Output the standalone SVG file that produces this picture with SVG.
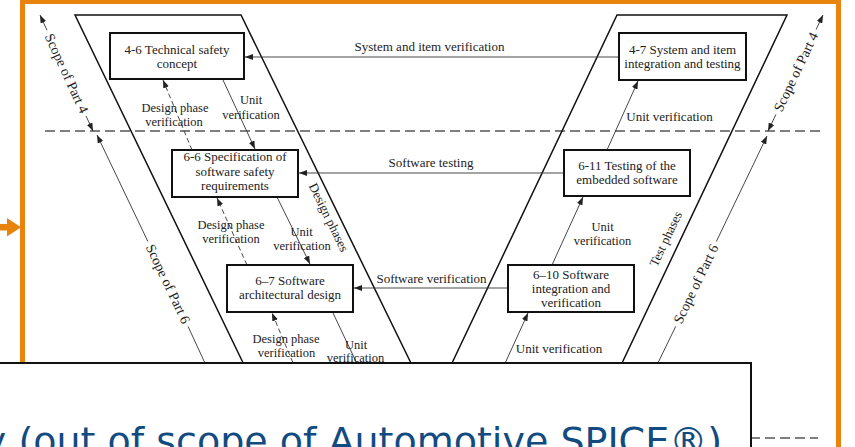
<svg xmlns="http://www.w3.org/2000/svg" width="855" height="447" viewBox="0 0 855 447">
<defs>
<style>
.t{font-family:"Liberation Serif","Times New Roman",serif;font-size:13px;fill:#222;text-anchor:middle}
.s{font-size:14px}
.l{font-size:12.5px}
.box{fill:#fff;stroke:#111;stroke-width:2}
.edge{fill:none;stroke:#111;stroke-width:1.5}
.c{fill:none;stroke:#333;stroke-width:0.9}
.d{stroke-dasharray:5 3}
.sep{fill:none;stroke:#000;stroke-width:1;stroke-dasharray:10 5}
</style>
<marker id="ah" viewBox="0 0 8 6" refX="8" refY="3" markerWidth="8" markerHeight="6" markerUnits="userSpaceOnUse" orient="auto-start-reverse">
<path d="M0,0 L8,3 L0,6 Z" fill="#222"/>
</marker>
</defs>
<rect x="0" y="0" width="855" height="447" fill="#fff"/>

<!-- orange frame -->
<g id="frame">
<rect x="22.5" y="1.5" width="816" height="480" fill="none" stroke="#E8830E" stroke-width="5"/>
<rect x="0" y="224" width="9" height="6.5" fill="#E8830E"/>
<path d="M7,218 L21,227.3 L7,236.6 Z" fill="#E8830E"/>
</g>

<!-- phase separators and V outline -->
<g id="separators">
<line class="sep" x1="45" y1="131" x2="820" y2="131"/>
<line class="sep" x1="45" y1="438" x2="818" y2="438"/>
</g>
<g id="design-phases">
<path class="edge" d="M261,400 L75,15 L241,15 L429,400"/>
<text class="t" transform="translate(328.5,217.5) rotate(63.9)" x="0" y="4">Design phases</text>
</g>
<g id="test-phases">
<path class="edge" d="M434.5,400 L617,15 L787,15 L604.5,400"/>
<text class="t" transform="translate(666,239) rotate(-64.6)" x="0" y="4">Test phases</text>
</g>

<!-- scope indicators -->
<g id="scope-left">
<line class="c" x1="47" y1="30.3" x2="40" y2="15" marker-end="url(#ah)"/>
<line class="c" x1="86" y1="116" x2="93" y2="131" marker-end="url(#ah)"/>
<text class="t s" transform="translate(66.5,73.5) rotate(65.4)" x="0" y="4.5">Scope of Part 4</text>
<line class="c" x1="147.9" y1="241.5" x2="97" y2="135" marker-end="url(#ah)"/>
<line class="c" x1="188.1" y1="326.5" x2="222" y2="400"/>
<text class="t s" transform="translate(168,284) rotate(64.7)" x="0" y="4.5">Scope of Part 6</text>
</g>
<g id="scope-right">
<line class="c" x1="816.1" y1="29.5" x2="823" y2="15" marker-end="url(#ah)"/>
<line class="c" x1="775.9" y1="114.5" x2="768" y2="131" marker-end="url(#ah)"/>
<text class="t s" transform="translate(796,72) rotate(-64.6)" x="0" y="4.5">Scope of Part 4</text>
<line class="c" x1="716.3" y1="241.6" x2="767" y2="136" marker-end="url(#ah)"/>
<line class="c" x1="675.7" y1="326.4" x2="640" y2="400"/>
<text class="t s" transform="translate(696,284) rotate(-64.3)" x="0" y="4.5">Scope of Part 6</text>
</g>

<!-- connectors -->
<g id="connectors">
<line class="c" x1="619" y1="57" x2="245" y2="57" marker-end="url(#ah)"/>
<line class="c" x1="564" y1="173" x2="299" y2="173" marker-end="url(#ah)"/>
<line class="c" x1="508" y1="288" x2="354" y2="288" marker-end="url(#ah)"/>

<line class="c" x1="223" y1="80" x2="255" y2="149" marker-end="url(#ah)"/>
<line class="c d" x1="192" y1="150" x2="163" y2="80" marker-end="url(#ah)"/>
<line class="c" x1="277" y1="197" x2="310" y2="264" marker-end="url(#ah)"/>
<line class="c d" x1="247" y1="265" x2="217" y2="198" marker-end="url(#ah)"/>
<line class="c" x1="333" y1="313" x2="360" y2="370"/>
<line class="c d" x1="296" y1="370" x2="272" y2="313" marker-end="url(#ah)"/>

<line class="c" x1="607" y1="150" x2="638" y2="81" marker-end="url(#ah)"/>
<line class="c" x1="552" y1="265" x2="583" y2="197" marker-end="url(#ah)"/>
<line class="c" x1="502" y1="370" x2="528" y2="313" marker-end="url(#ah)"/>

<text class="t" x="429.5" y="51">System and item verification</text>
<text class="t" x="431" y="167">Software testing</text>
<text class="t" x="431.5" y="283">Software verification</text>

<text class="t l" x="251" y="104">Unit</text>
<text class="t l" x="251" y="118.5">verification</text>
<text class="t l" x="175" y="111.5">Design phase</text>
<text class="t l" x="174" y="126">verification</text>

<text class="t l" x="301.5" y="235.5">Unit</text>
<text class="t l" x="302" y="250">verification</text>
<text class="t l" x="231" y="228.5">Design phase</text>
<text class="t l" x="231" y="242.5">verification</text>

<text class="t l" x="356" y="348.5">Unit</text>
<text class="t l" x="355.5" y="362">verification</text>
<text class="t l" x="286" y="342.5">Design phase</text>
<text class="t l" x="286.5" y="357">verification</text>

<text class="t" x="669.5" y="121">Unit verification</text>
<text class="t l" x="602.5" y="230.5">Unit</text>
<text class="t l" x="602.5" y="245">verification</text>
<text class="t" x="559" y="353">Unit verification</text>
</g>

<!-- nodes -->
<g id="n46">
<rect class="box" x="110" y="33" width="134" height="46"/>
<text class="t" x="177" y="53.5">4-6 Technical safety</text>
<text class="t" x="177" y="67.5">concept</text>
</g>
<g id="n66">
<rect class="box" x="172" y="150" width="126" height="47"/>
<text class="t" x="235" y="161">6-6 Specification of</text>
<text class="t" x="235" y="175.5">software safety</text>
<text class="t" x="235" y="189.5">requirements</text>
</g>
<g id="n67">
<rect class="box" x="227" y="265" width="126" height="47"/>
<text class="t" x="290" y="285">6–7 Software</text>
<text class="t" x="290" y="298.5">architectural design</text>
</g>
<g id="n47">
<rect class="box" x="619" y="33" width="127" height="47"/>
<text class="t" x="682.5" y="53.5">4-7 System and item</text>
<text class="t" x="682.5" y="67.5">integration and testing</text>
</g>
<g id="n611">
<rect class="box" x="564" y="150" width="126" height="46"/>
<text class="t" x="627" y="170">6-11 Testing of the</text>
<text class="t" x="627" y="184">embedded software</text>
</g>
<g id="n610">
<rect class="box" x="508" y="265" width="126" height="47"/>
<text class="t" x="571" y="278.5">6–10 Software</text>
<text class="t" x="571" y="292.5">integration and</text>
<text class="t" x="571" y="306.5">verification</text>
</g>

<!-- overlay caption box -->
<g id="caption">
<rect x="-5" y="363" width="756" height="100" fill="#fff" stroke="#111" stroke-width="2"/>
<text x="722" y="454" text-anchor="end" font-family="DejaVu Sans, Verdana, sans-serif" font-size="38" fill="#114B82">y (out of scope of Automotive SPICE®)</text>
</g>
</svg>
